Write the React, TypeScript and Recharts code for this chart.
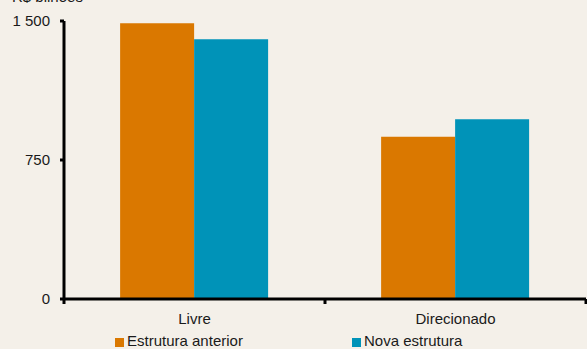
import { BarChart, Bar, XAxis, YAxis, Legend } from 'recharts';

const categories = ['Livre', 'Direcionado'];
const estruturaAnterior = [1488, 876];
const novaEstrutura = [1401, 970];
const yTicks = [0, 750, 1500];
const seriesNames = ['Estrutura anterior', 'Nova estrutura'];

const data = categories.map((name, i) => ({
  name,
  anterior: estruturaAnterior[i],
  nova: novaEstrutura[i],
}));

const ORANGE = '#DA7800';
const BLUE = '#0093B8';
const BG = '#F4F0E9';
const TEXT = '#1a1a1a';
const FONT = '"Liberation Sans", Arial, sans-serif';
const TICK_SIZE = 4;
const TICK_MARGIN = 10;

const fmt = (v: number) => String(v).replace(/\B(?=(\d{3})+(?!\d))/g, ' ');

function CategoryTick(props: any) {
  const { x, y, payload, index, visibleTicksCount } = props;
  const half = payload?.offset ?? 0;
  const axisY = y - TICK_SIZE - TICK_MARGIN;
  return (
    <g>
      <line x1={x - half} x2={x - half} y1={axisY} y2={axisY + TICK_SIZE + 1} stroke="#000" strokeWidth={3} />
      {index === visibleTicksCount - 1 && (
        <line x1={x + half} x2={x + half} y1={axisY} y2={axisY + TICK_SIZE + 1} stroke="#000" strokeWidth={3} />
      )}
      <text x={x} y={axisY + 25} textAnchor="middle" fontSize={15} fontFamily={FONT} fill={TEXT}>
        {payload.value}
      </text>
    </g>
  );
}

function LegendContent(props: any) {
  const items = props.payload || [];
  return (
    <div style={{ display: 'flex', height: 16, paddingLeft: 115, fontSize: 15, lineHeight: '16px', fontFamily: FONT, color: TEXT }}>
      {items.map((it: any, i: number) => (
        <div key={i} style={{ display: 'flex', alignItems: 'center', width: i === 0 ? 237 : 'auto' }}>
          <span style={{ width: 9, height: 9, background: it.color, marginRight: 3, marginTop: 3 }} />
          <span>{it.value}</span>
        </div>
      ))}
    </div>
  );
}

export default function App() {
  return (
    <div style={{ position: 'absolute', left: 0, top: 0, width: 587, height: 349, background: BG, overflow: 'hidden' }}>
      <div style={{ position: 'absolute', left: 12, top: -12, fontSize: 15, fontFamily: FONT, color: TEXT, whiteSpace: 'nowrap' }}>
        R$ bilhões
      </div>
      <BarChart
        width={587}
        height={349}
        data={data}
        margin={{ top: 21, right: 1, bottom: 0, left: 0 }}
        barCategoryGap="21.5%"
        barGap={0}
      >
        <XAxis
          dataKey="name"
          height={34}
          tickSize={TICK_SIZE}
          tickMargin={TICK_MARGIN}
          tickLine={false}
          axisLine={{ stroke: '#000', strokeWidth: 3 }}
          tick={<CategoryTick />}
          interval={0}
        />
        <YAxis
          width={64}
          domain={[0, 1500]}
          ticks={yTicks}
          tickFormatter={fmt}
          tickSize={TICK_SIZE}
          tickMargin={TICK_MARGIN}
          axisLine={{ stroke: '#000', strokeWidth: 3 }}
          tickLine={{ stroke: '#000', strokeWidth: 3 }}
          tick={{ fontSize: 15, fontFamily: FONT, fill: TEXT }}
          interval={0}
        />
        <Legend verticalAlign="bottom" content={<LegendContent />} wrapperStyle={{ left: 0, bottom: 0, width: 587 }} />
        <Bar dataKey="anterior" name={seriesNames[0]} fill={ORANGE} isAnimationActive={false} />
        <Bar dataKey="nova" name={seriesNames[1]} fill={BLUE} isAnimationActive={false} />
      </BarChart>
    </div>
  );
}
